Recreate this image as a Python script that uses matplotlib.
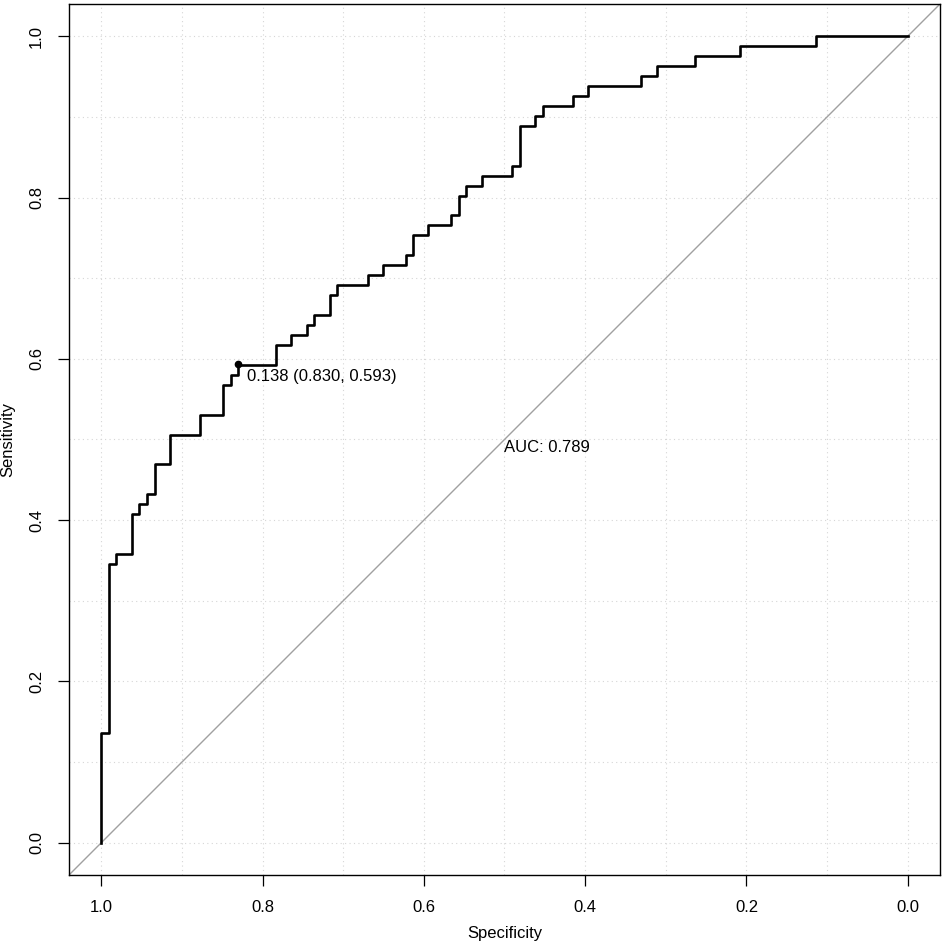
import matplotlib
matplotlib.use("Agg")
import matplotlib.pyplot as plt
import numpy as np

plt.rcParams['font.family'] = ['Liberation Sans', 'DejaVu Sans']

# ROC curve: 106 controls, 81 cases
n_controles = 106
n_casos = 81
# false positives (controls) at each step, and cases detected after the step
fp_pasos = [0, 1, 2, 4, 5, 6, 7, 9, 13, 16, 17, 18, 23, 25, 27, 28, 30, 31, 35, 37,
            40, 41, 43, 46, 47, 48, 50, 54, 55, 57, 58, 62, 64, 71, 73, 78, 84, 94]
tp_pasos = [11, 28, 29, 33, 34, 35, 38, 41, 43, 46, 47, 48, 50, 51, 52, 53, 55, 56, 57, 58,
            59, 61, 62, 63, 65, 66, 67, 68, 72, 73, 74, 75, 76, 77, 78, 79, 80, 81]

umbral = 0.138
esp_umbral = 0.830
sens_umbral = 0.593
auc = 0.789

# build the staircase
esp = [1.0]
sens = [0.0]
prev = 0
for fp, tp in zip(fp_pasos, tp_pasos):
    e = 1 - fp / n_controles
    esp += [e, e]
    sens += [prev / n_casos, tp / n_casos]
    prev = tp
esp.append(0.0)
sens.append(prev / n_casos)

fig = plt.figure(figsize=(9.44, 9.47), dpi=100)
ax = fig.add_axes([69 / 944, 1 - 875 / 947, 871 / 944, 871 / 947])

ax.set_xlim(1.04, -0.04)
ax.set_ylim(-0.04, 1.04)

for v in np.arange(0, 1.01, 0.1):
    ax.axvline(v, color='#d6d6d6', lw=0.8, ls=(0, (1, 3)), zorder=0)
    ax.axhline(v, color='#d6d6d6', lw=0.8, ls=(0, (1, 3)), zorder=0)

ax.axline((1, 0), (0, 1), color='#a0a0a0', lw=1.0, zorder=1)
ax.plot(esp, sens, color='black', lw=1.9, zorder=3)
ax.plot([esp_umbral], [sens_umbral], 'o', color='black', ms=4.5, zorder=4)
ax.annotate(f"{umbral:.3f} ({esp_umbral:.3f}, {sens_umbral:.3f})",
            xy=(esp_umbral, sens_umbral), xytext=(6, -3), textcoords='offset points',
            ha='left', va='top', fontsize=12)
ax.text(0.5, 0.5, f"AUC: {auc:.3f}", ha='left', va='top', fontsize=12)

ticks = [1.0, 0.8, 0.6, 0.4, 0.2, 0.0]
ax.set_xticks(ticks)
ax.set_xticklabels([f"{t:.1f}" for t in ticks])
ax.set_yticks(ticks)
ax.set_yticklabels([f"{t:.1f}" for t in ticks], rotation=90, va='center')
ax.tick_params(direction='out', length=8, width=0.9, labelsize=12, pad=10)
ax.set_xlabel('Specificity', fontsize=12, labelpad=8)
ax.set_ylabel('Sensitivity', fontsize=12, labelpad=10)
for s in ax.spines.values():
    s.set_linewidth(1.0)

fig.savefig('out.png', dpi=100)
